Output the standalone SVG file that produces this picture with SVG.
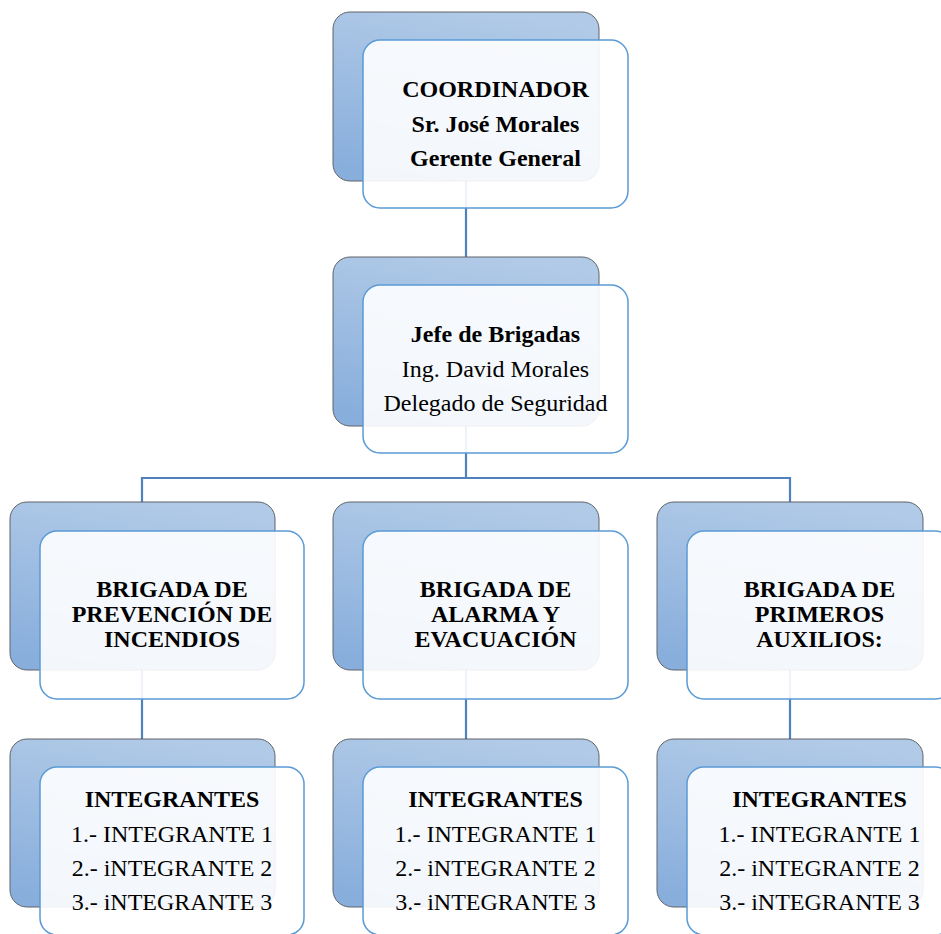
<svg xmlns="http://www.w3.org/2000/svg" width="941" height="934" viewBox="0 0 941 934">
<defs>
<linearGradient id="bg" x1="0.6" y1="0" x2="0.35" y2="1">
<stop offset="0" stop-color="#b1cae7"/>
<stop offset="1" stop-color="#88aedc"/>
</linearGradient>
<style>
.back{fill:url(#bg);stroke:#5f6369;stroke-width:1}
.front{fill:#ffffff;fill-opacity:0.9;stroke:#5b9bd5;stroke-width:1.5}
.conn{stroke:#4f81bd;stroke-width:2.2;fill:none}
text{font-family:"Liberation Serif","Times New Roman",serif;font-size:24px;fill:#000;text-anchor:middle}
.b{font-weight:bold}
</style>
</defs>
<rect width="941" height="934" fill="#ffffff"/>
<g id="connectors">
<path class="conn" d="M466,180 V257"/>
<path class="conn" d="M466,426 V478 M142,502 V478 H790 V502"/>
<path class="conn" d="M142,670 V739 M466,670 V739 M790,670 V739"/>
</g>
<g id="coordinador">
<rect class="back" x="333" y="12" width="266" height="169" rx="17"/>
<rect class="front" x="363" y="40" width="265" height="168" rx="17"/>
<text class="b" x="495.5" y="97">COORDINADOR</text>
<text class="b" x="495.5" y="132">Sr. José Morales</text>
<text class="b" x="495.5" y="166">Gerente General</text>
</g>
<g id="jefe">
<rect class="back" x="333" y="257" width="266" height="169" rx="17"/>
<rect class="front" x="363" y="285" width="265" height="168" rx="17"/>
<text class="b" x="495.5" y="342">Jefe de Brigadas</text>
<text x="495.5" y="377">Ing. David Morales</text>
<text x="495.5" y="411">Delegado de Seguridad</text>
</g>
<g id="brigada-prevencion">
<rect class="back" x="10" y="502" width="265" height="168" rx="17"/>
<rect class="front" x="40" y="531" width="264" height="168" rx="17"/>
<text class="b" x="172" y="597">BRIGADA DE</text>
<text class="b" x="172" y="622">PREVENCIÓN DE</text>
<text class="b" x="172" y="647">INCENDIOS</text>
</g>
<g id="brigada-alarma">
<rect class="back" x="333" y="502" width="266" height="168" rx="17"/>
<rect class="front" x="363" y="531" width="265" height="168" rx="17"/>
<text class="b" x="495.5" y="597">BRIGADA DE</text>
<text class="b" x="495.5" y="622">ALARMA Y</text>
<text class="b" x="495.5" y="647">EVACUACIÓN</text>
</g>
<g id="brigada-auxilios">
<rect class="back" x="657" y="502" width="266" height="168" rx="17"/>
<rect class="front" x="687" y="531" width="265" height="168" rx="17"/>
<text class="b" x="819.5" y="597">BRIGADA DE</text>
<text class="b" x="819.5" y="622">PRIMEROS</text>
<text class="b" x="819.5" y="647">AUXILIOS:</text>
</g>
<g id="integrantes-prevencion">
<rect class="back" x="10" y="739" width="265" height="168" rx="17"/>
<rect class="front" x="40" y="767" width="264" height="168" rx="17"/>
<text class="b" x="172" y="807">INTEGRANTES</text>
<text x="172" y="842">1.- INTEGRANTE 1</text>
<text x="172" y="876">2.- iNTEGRANTE 2</text>
<text x="172" y="910">3.- iNTEGRANTE 3</text>
</g>
<g id="integrantes-alarma">
<rect class="back" x="333" y="739" width="266" height="168" rx="17"/>
<rect class="front" x="363" y="767" width="265" height="168" rx="17"/>
<text class="b" x="495.5" y="807">INTEGRANTES</text>
<text x="495.5" y="842">1.- INTEGRANTE 1</text>
<text x="495.5" y="876">2.- iNTEGRANTE 2</text>
<text x="495.5" y="910">3.- iNTEGRANTE 3</text>
</g>
<g id="integrantes-auxilios">
<rect class="back" x="657" y="739" width="266" height="168" rx="17"/>
<rect class="front" x="687" y="767" width="265" height="168" rx="17"/>
<text class="b" x="819.5" y="807">INTEGRANTES</text>
<text x="819.5" y="842">1.- INTEGRANTE 1</text>
<text x="819.5" y="876">2.- iNTEGRANTE 2</text>
<text x="819.5" y="910">3.- iNTEGRANTE 3</text>
</g>
</svg>
